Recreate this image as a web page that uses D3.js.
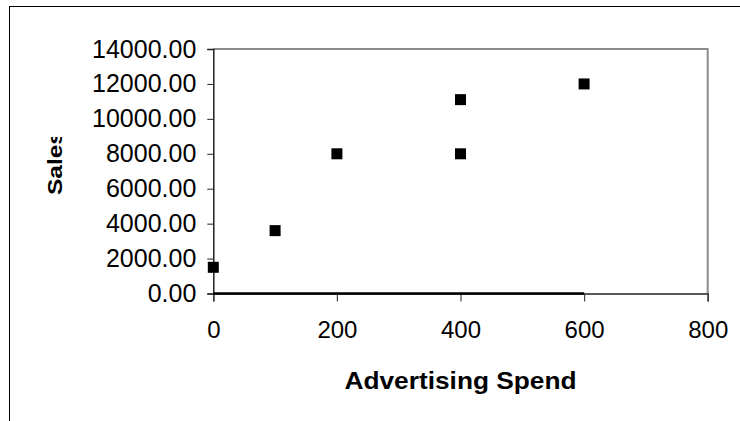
<!DOCTYPE html>
<html>
<head>
<meta charset="utf-8">
<script src="https://cdn.jsdelivr.net/npm/d3@7"></script>
<style>
  html, body { margin: 0; padding: 0; background: #fff; }
  svg { display: block; }
  text { font-family: "Liberation Sans", Arial, sans-serif; fill: #000; }
</style>
</head>
<body>
<svg id="chart" width="740" height="421"></svg>
<script>
// Advertising spend vs. sales observations
const adSpend = [0, 100, 200, 400, 400, 600];
const sales = [1500, 3600, 8000, 11100, 8000, 12000];

// Axis ticks
const xTicks = [0, 200, 400, 600, 800];
const yTicks = [0, 2000, 4000, 6000, 8000, 10000, 12000, 14000];

const xTitle = "Advertising Spend";
const yTitle = "Sales";

const svg = d3.select("#chart");
const W = 740, H = 421;
const plot = { left: 213.3, right: 707.7, top: 49, bottom: 293.5 };

const x = d3.scaleLinear().domain([0, 800]).range([plot.left, plot.right]);
const y = d3.scaleLinear().domain([0, 14000]).range([plot.bottom, plot.top]);

// Outer chart frame (runs off the right and bottom edges)
svg.append("rect")
  .attr("x", 9.5).attr("y", 6.5)
  .attr("width", W + 20).attr("height", H + 20)
  .attr("fill", "#fff").attr("stroke", "#000").attr("stroke-width", 1);

// Plot-area border: grey top and right edges
svg.append("path")
  .attr("d", `M${plot.left},${plot.top}H${plot.right}V${plot.bottom}`)
  .attr("fill", "none").attr("stroke", "#8c8c8c").attr("stroke-width", 2);

// Y axis
const yAxis = d3.axisLeft(y).tickValues(yTicks).tickSize(6).tickPadding(11)
  .tickFormat(d3.format(".2f"));
const gy = svg.append("g").attr("transform", `translate(${plot.left},0)`).call(yAxis);
gy.select(".domain").attr("stroke", "#222").attr("stroke-width", 1.5);
gy.selectAll(".tick line").attr("stroke", "#222").attr("stroke-width", 1);
gy.selectAll(".tick text")
  .style("font-family", "'Liberation Sans', Arial, sans-serif")
  .style("font-size", "25px").attr("fill", "#000");

// X axis
const xAxis = d3.axisBottom(x).tickValues(xTicks).tickSize(8).tickPadding(19)
  .tickFormat(d3.format("d"));
const gx = svg.append("g").attr("transform", `translate(0,${plot.bottom})`).call(xAxis);
gx.select(".domain").attr("stroke", "#222").attr("stroke-width", 1.5);
gx.selectAll(".tick line").attr("stroke", "#444").attr("stroke-width", 1.2);
gx.selectAll(".tick text")
  .style("font-family", "'Liberation Sans', Arial, sans-serif")
  .style("font-size", "24px").attr("fill", "#000");

// Heavier baseline across the span of the observed spend values
const spendExtent = d3.extent(adSpend);
svg.append("line")
  .attr("x1", x(spendExtent[0])).attr("x2", x(spendExtent[1]))
  .attr("y1", y(0)).attr("y2", y(0))
  .attr("stroke", "#000").attr("stroke-width", 2.5);

// Square markers
const size = 11;
svg.append("g").selectAll("rect")
  .data(adSpend.map((v, i) => ({ x: v, y: sales[i] })))
  .join("rect")
  .attr("x", d => x(d.x) - size / 2)
  .attr("y", d => y(d.y) - size / 2)
  .attr("width", size).attr("height", size)
  .attr("fill", "#000");

// X axis title
svg.append("text")
  .attr("x", (plot.left + plot.right) / 2).attr("y", 389)
  .attr("text-anchor", "middle")
  .attr("textLength", 232).attr("lengthAdjust", "spacingAndGlyphs")
  .style("font-size", "24px").style("font-weight", "bold")
  .text(xTitle);

// Y axis title, rotated; its far end is trimmed by the title box
svg.append("clipPath").attr("id", "ytitle-clip")
  .append("rect").attr("x", 0).attr("y", 137).attr("width", 120).attr("height", 200);
svg.append("g").attr("clip-path", "url(#ytitle-clip)")
  .append("text")
  .attr("transform", "translate(62,195) rotate(-90)")
  .attr("text-anchor", "start")
  .attr("textLength", 64).attr("lengthAdjust", "spacingAndGlyphs")
  .style("font-size", "21px").style("font-weight", "bold")
  .text(yTitle);
</script>
</body>
</html>
